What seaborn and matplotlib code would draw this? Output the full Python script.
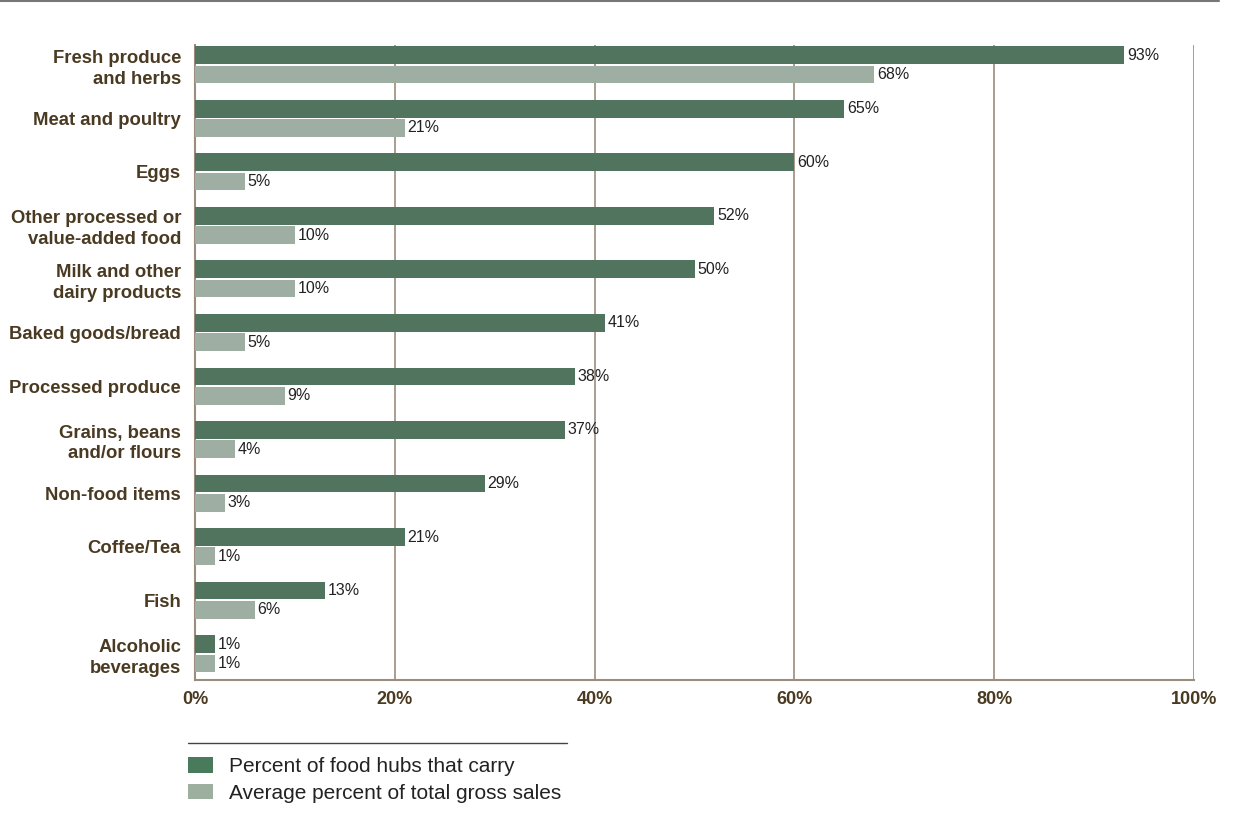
import matplotlib
matplotlib.use("Agg")
import matplotlib.pyplot as plt
import seaborn as sns
import pandas as pd
from matplotlib.lines import Line2D
from matplotlib.patches import Patch

categories = ["Fresh produce\nand herbs", "Meat and poultry", "Eggs",
              "Other processed or\nvalue-added food", "Milk and other\ndairy products",
              "Baked goods/bread", "Processed produce", "Grains, beans\nand/or flours",
              "Non-food items", "Coffee/Tea", "Fish", "Alcoholic\nbeverages"]
pct_carry = [93, 65, 60, 52, 50, 41, 38, 37, 29, 21, 13, 2]
pct_sales = [68, 21, 5, 10, 10, 5, 9, 4, 3, 2, 6, 2]
label_carry = ["93%", "65%", "60%", "52%", "50%", "41%", "38%", "37%", "29%", "21%", "13%", "1%"]
label_sales = ["68%", "21%", "5%", "10%", "10%", "5%", "9%", "4%", "3%", "1%", "6%", "1%"]
series = ["Percent of food hubs that carry", "Average percent of total gross sales"]
ticks = [0, 20, 40, 60, 80, 100]
tick_labels = ["0%", "20%", "40%", "60%", "80%", "100%"]

df = pd.DataFrame({
    "category": categories * 2,
    "value": pct_carry + pct_sales,
    "series": [series[0]] * len(categories) + [series[1]] * len(categories),
})

GREEN = "#4a7a5c"
LIGHT = "#9db0a0"
BROWN = "#4a3a22"
SPINE = "#9c8c7c"

sns.set_style("white")
plt.rcParams["font.family"] = ["Liberation Sans", "DejaVu Sans"]

fig = plt.figure(figsize=(12.41, 8.27), dpi=100)
ax = fig.add_axes([195 / 1241, 1 - 680 / 827, (1194 - 195) / 1241, (680 - 45) / 827])

sns.barplot(data=df, y="category", x="value", hue="series", orient="h",
            palette=[GREEN, LIGHT], width=0.72, gap=0.08, ax=ax, legend=False,
            edgecolor="none", zorder=3)

ax.set_xlim(0, 100)
ax.set_ylim(11.49, -0.37)
ax.set_xticks(ticks)
ax.set_xticklabels(tick_labels, fontsize=13, fontweight="bold", color=BROWN)
ax.tick_params(axis="x", length=0, pad=8)
ax.tick_params(axis="y", length=0, pad=10)
for t in ax.get_yticklabels():
    t.set_fontsize(13.3)
    t.set_fontweight("bold")
    t.set_color(BROWN)
    t.set_linespacing(1.3)
ax.set_xlabel("")
ax.set_ylabel("")
ax.xaxis.grid(True, color=SPINE, linewidth=1.2, zorder=0)
ax.yaxis.grid(False)
for s in ["top", "right"]:
    ax.spines[s].set_visible(False)
for s in ["left", "bottom"]:
    ax.spines[s].set_color(SPINE)
    ax.spines[s].set_linewidth(1.5)

for container, labs in zip(ax.containers, [label_carry, label_sales]):
    ax.bar_label(container, labels=labs, padding=2, fontsize=11.5, color="#222222")

# top rule
fig.add_artist(Line2D([0, 1219 / 1241], [1 - 1 / 827, 1 - 1 / 827], color="#777777", linewidth=1.5))
# legend rule
fig.add_artist(Line2D([188 / 1241, 567 / 1241], [1 - 743 / 827, 1 - 743 / 827], color="#444444", linewidth=1))

handles = [Patch(facecolor=GREEN, edgecolor="none"), Patch(facecolor=LIGHT, edgecolor="none")]
fig.legend(handles, series, loc="upper left", bbox_to_anchor=(188 / 1241, 1 - 757 / 827),
           frameon=False, fontsize=15, handlelength=1.2, handleheight=0.78,
           handletextpad=0.75, labelspacing=0.36, labelcolor="#222222",
           borderaxespad=0, borderpad=0)

fig.savefig("out.png", dpi=100)
